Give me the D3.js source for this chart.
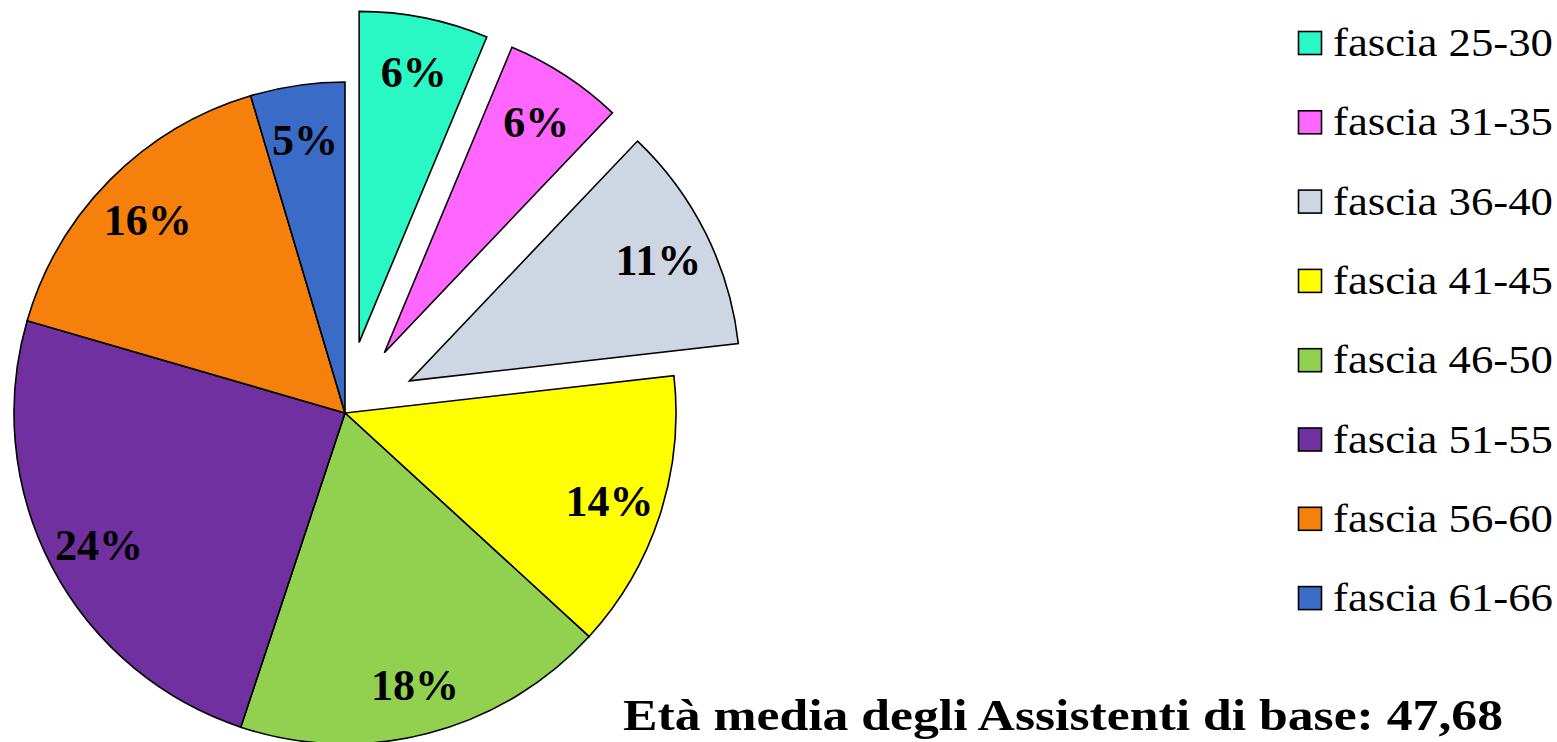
<!DOCTYPE html>
<html><head><meta charset="utf-8">
<script src="https://cdn.jsdelivr.net/npm/d3@7/dist/d3.min.js"></script>
<style>body{margin:0;background:#fff}svg{display:block}</style>
</head><body>
<svg id="c" width="1557" height="742"></svg>
<script>
const categories = ["fascia 25-30","fascia 31-35","fascia 36-40","fascia 41-45","fascia 46-50","fascia 51-55","fascia 56-60","fascia 61-66"];
const values = [6.3, 5.8, 11.1, 13.6, 18.3, 24.4, 15.9, 4.6];
const colors = ["#2AF8C4","#FF66FF","#CED5E3","#FFFF00","#92D050","#7030A0","#F5800B","#3A6BC6"];
const exploded = [true, true, true, false, false, false, false, false];
const titleText = "Età media degli Assistenti di base: 47,68";

const svg = d3.select("#c");
const cx = 345, cy = 413, R = 331, off = 72;
const pie = d3.pie().sort(null).value(d => d)(values);
const arc = d3.arc().innerRadius(0).outerRadius(R);
const total = d3.sum(values);

const g = svg.append("g").attr("transform", `translate(${cx},${cy})`);
pie.forEach((p, i) => {
  const mid = (p.startAngle + p.endAngle) / 2;
  const o = exploded[i] ? off : 0;
  const tx = Math.sin(mid) * o, ty = -Math.cos(mid) * o;
  const sg = g.append("g").attr("transform", `translate(${tx},${ty})`);
  sg.append("path").attr("d", arc(p)).attr("fill", colors[i])
    .attr("stroke", "#000").attr("stroke-width", 1.6).attr("stroke-linejoin", "miter");
  const lr = R * 0.84;
  sg.append("text")
    .attr("x", Math.sin(mid) * lr).attr("y", -Math.cos(mid) * lr + 3)
    .attr("text-anchor", "middle").attr("dominant-baseline", "central")
    .attr("font-family", "'Liberation Serif', 'DejaVu Serif', serif")
    .attr("font-weight", "bold").attr("font-size", 44).attr("fill", "#000")
    .text(Math.round(values[i] / total * 100) + "%");
});

// legend
const lg = svg.append("g");
categories.forEach((c, i) => {
  const y = 43 + i * 79.3;
  lg.append("rect").attr("x", 1298.5).attr("y", y - 11.5).attr("width", 23).attr("height", 23)
    .attr("fill", colors[i]).attr("stroke", "#000").attr("stroke-width", 1.6);
  lg.append("text").attr("x", 1333).attr("y", y + 13)
    .attr("font-family", "'Liberation Serif', serif").attr("font-size", 39)
    .attr("textLength", 220).attr("lengthAdjust", "spacingAndGlyphs")
    .attr("fill", "#000").text(c);
});

svg.append("text").attr("x", 623).attr("y", 730)
  .attr("font-family", "'Liberation Serif', serif").attr("font-weight", "bold")
  .attr("font-size", 45).attr("textLength", 880).attr("lengthAdjust", "spacingAndGlyphs")
  .attr("fill", "#000").text(titleText);
</script>
</body></html>
